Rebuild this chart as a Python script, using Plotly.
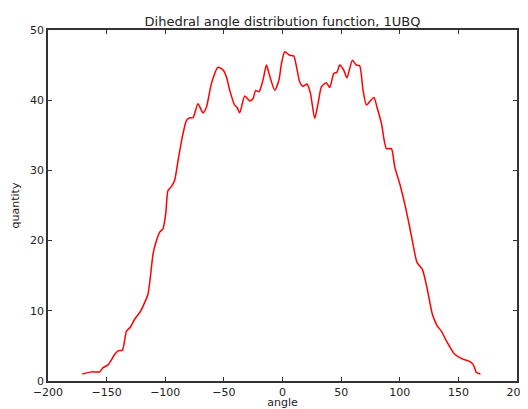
import plotly.graph_objects as go

angle = [-170.7, -163, -155.9, -153.1, -148.8, -143.1, -140.3, -136.5, -133.1, -129.7,
         -126.1, -121.2, -117.5, -114.7, -112.7, -110.4, -107.5, -104.7, -101.9, -99.6,
         -97.7, -94.8, -92, -89, -85.4, -82, -79.1, -76.3, -72.1, -67.8,
         -64.9, -60.6, -55, -50.7, -47.8, -45, -40.8, -38.8, -36.5, -32.2,
         -27.9, -25.2, -22.9, -20, -16.6, -13.7, -11.5, -6.6, -3, -0.9,
         1.9, 6.1, 9.6, 11.9, 14.7, 17.5, 20.9, 23.8, 27.5, 30.3,
         33.2, 37.4, 40.3, 43.7, 46.5, 48.8, 52.2, 55, 59.6, 63,
         65.8, 68.7, 71.6, 74.4, 78, 80.6, 84.4, 88.6, 92.9, 95.7,
         100, 104.3, 108.5, 111.3, 114.7, 119.3, 123.2, 127.8, 131.8, 135.5,
         139.8, 146.9, 154, 158.2, 162.5, 165.4, 168.8]

quantity = [1.0, 1.3, 1.3, 1.9, 2.3, 3.8, 4.3, 4.4, 7.1, 7.7,
            8.8, 9.9, 11.2, 12.4, 14.8, 18.1, 20, 21.2, 21.7, 23.8,
            27.1, 27.7, 28.6, 31.5, 34.8, 37.1, 37.5, 37.5, 39.5, 38.2,
            39, 42.4, 44.7, 44.3, 43.3, 41.4, 39.3, 39, 38.2, 40.6,
            39.9, 40.2, 41.4, 41.2, 42.9, 45, 43.8, 41.4, 42.9, 45.2,
            46.9, 46.4, 46.3, 44.8, 42.6, 42, 42.3, 41, 37.4, 39.5,
            41.9, 42.5, 41.8, 43.8, 44, 45, 44.3, 43.2, 45.7, 45,
            44.9, 41.4, 39.3, 39.8, 40.4, 39, 36.7, 33.1, 33.1, 30.5,
            28.1, 25.2, 21.9, 19.5, 16.9, 15.9, 13.3, 9.5, 7.9, 7.1,
            5.7, 3.8, 3.1, 2.9, 2.4, 1.2, 1.0]

x_ticks = [-200, -150, -100, -50, 0, 50, 100, 150, 200]
y_ticks = [0, 10, 20, 30, 40, 50]

FONT = "DejaVu Sans"

fig = go.Figure()
fig.add_trace(go.Scatter(
    x=angle, y=quantity, mode="lines",
    line=dict(color="red", width=1.5, shape="spline", smoothing=0.6),
    showlegend=False, hoverinfo="skip",
))

axis_common = dict(
    showgrid=False, zeroline=False, automargin=False,
    showline=True, linecolor="#333333", linewidth=1.5, mirror="ticks",
    ticks="inside", ticklen=4, tickwidth=1, tickcolor="#333333",
    tickfont=dict(family=FONT, size=11, color="#222222"),
)

# The page body adds an 8px offset; the figure is sized to fill the rest.
fig.update_layout(
    width=520, height=401,
    margin=dict(l=40, r=11, t=22, b=28, autoexpand=False),
    paper_bgcolor="white", plot_bgcolor="white",
    font=dict(family=FONT, size=11, color="#222222"),
    title=dict(text="Dihedral angle distribution function, 1UBQ",
               x=0.5, xref="paper", y=1 - 13 / 401, yref="container",
               xanchor="center", yanchor="middle", automargin=False,
               font=dict(family=FONT, size=13, color="#222222")),
    xaxis=dict(range=[-200, 200], tickvals=x_ticks,
               title=dict(text="angle", standoff=4, font=dict(family=FONT, size=11)),
               **axis_common),
    yaxis=dict(range=[0, 50], tickvals=y_ticks,
               title=dict(text="quantity", standoff=8, font=dict(family=FONT, size=11)),
               **axis_common),
)

fig.write_html("out.html")
